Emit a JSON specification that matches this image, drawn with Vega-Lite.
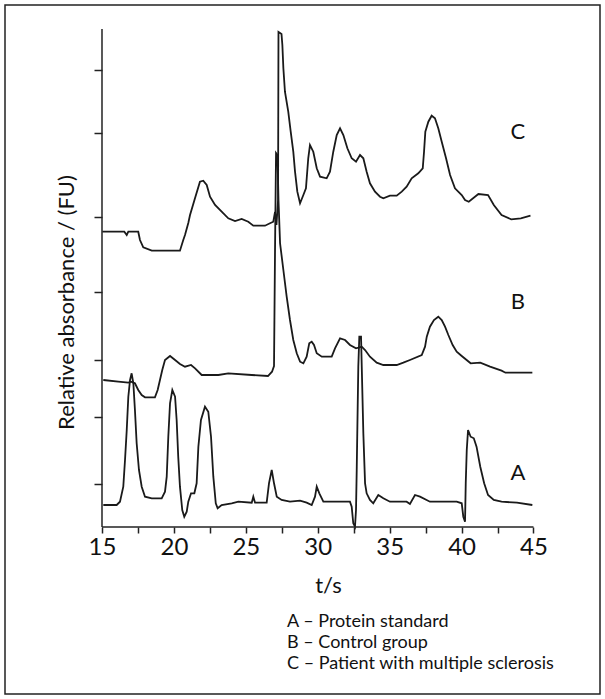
{
  "$schema": "https://vega.github.io/schema/vega-lite/v6.json",
  "width": 595,
  "height": 689,
  "padding": 5,
  "background": "white",
  "config": {
    "view": {"stroke": "#222", "strokeWidth": 1.5, "fill": "white"},
    "font": "Lato"
  },
  "datasets": {
    "labels": [
      {"series": "A – Protein standard", "letter": "A", "t": 43.92, "y": 53.7},
      {"series": "B – Control group", "letter": "B", "t": 43.92, "y": 225.3},
      {"series": "C – Patient with multiple sclerosis", "letter": "C", "t": 43.92, "y": 395.3}
    ],
    "axisline": [{"t": 15, "t2": 45, "y": 0, "y2": 498}]
  },
  "data": {"values": [
    {"series":"C – Patient with multiple sclerosis","t":15.02,"y":295.3},
    {"series":"C – Patient with multiple sclerosis","t":16.55,"y":295.3},
    {"series":"C – Patient with multiple sclerosis","t":16.72,"y":292},
    {"series":"C – Patient with multiple sclerosis","t":16.83,"y":295.3},
    {"series":"C – Patient with multiple sclerosis","t":17.52,"y":295.3},
    {"series":"C – Patient with multiple sclerosis","t":17.64,"y":287},
    {"series":"C – Patient with multiple sclerosis","t":17.87,"y":279.7},
    {"series":"C – Patient with multiple sclerosis","t":18.46,"y":276.3},
    {"series":"C – Patient with multiple sclerosis","t":20.42,"y":276.3},
    {"series":"C – Patient with multiple sclerosis","t":20.65,"y":287},
    {"series":"C – Patient with multiple sclerosis","t":20.77,"y":292},
    {"series":"C – Patient with multiple sclerosis","t":21.0,"y":304},
    {"series":"C – Patient with multiple sclerosis","t":21.12,"y":312},
    {"series":"C – Patient with multiple sclerosis","t":21.47,"y":329},
    {"series":"C – Patient with multiple sclerosis","t":21.81,"y":345.3},
    {"series":"C – Patient with multiple sclerosis","t":22.04,"y":346.3},
    {"series":"C – Patient with multiple sclerosis","t":22.28,"y":342},
    {"series":"C – Patient with multiple sclerosis","t":22.51,"y":330.3},
    {"series":"C – Patient with multiple sclerosis","t":22.86,"y":322},
    {"series":"C – Patient with multiple sclerosis","t":23.32,"y":315.3},
    {"series":"C – Patient with multiple sclerosis","t":23.78,"y":308.7},
    {"series":"C – Patient with multiple sclerosis","t":24.25,"y":306},
    {"series":"C – Patient with multiple sclerosis","t":24.71,"y":308},
    {"series":"C – Patient with multiple sclerosis","t":25.17,"y":305.3},
    {"series":"C – Patient with multiple sclerosis","t":25.52,"y":301.3},
    {"series":"C – Patient with multiple sclerosis","t":26.33,"y":301.3},
    {"series":"C – Patient with multiple sclerosis","t":26.68,"y":303.7},
    {"series":"C – Patient with multiple sclerosis","t":26.91,"y":305.3},
    {"series":"C – Patient with multiple sclerosis","t":27.03,"y":315},
    {"series":"C – Patient with multiple sclerosis","t":27.13,"y":302},
    {"series":"C – Patient with multiple sclerosis","t":27.24,"y":327},
    {"series":"C – Patient with multiple sclerosis","t":27.27,"y":495},
    {"series":"C – Patient with multiple sclerosis","t":27.48,"y":493},
    {"series":"C – Patient with multiple sclerosis","t":27.54,"y":482},
    {"series":"C – Patient with multiple sclerosis","t":27.61,"y":458.7},
    {"series":"C – Patient with multiple sclerosis","t":27.72,"y":435.3},
    {"series":"C – Patient with multiple sclerosis","t":27.95,"y":415.3},
    {"series":"C – Patient with multiple sclerosis","t":28.12,"y":395.3},
    {"series":"C – Patient with multiple sclerosis","t":28.3,"y":375.3},
    {"series":"C – Patient with multiple sclerosis","t":28.42,"y":355.3},
    {"series":"C – Patient with multiple sclerosis","t":28.58,"y":335.3},
    {"series":"C – Patient with multiple sclerosis","t":28.77,"y":323.7},
    {"series":"C – Patient with multiple sclerosis","t":29.0,"y":332},
    {"series":"C – Patient with multiple sclerosis","t":29.18,"y":338.7},
    {"series":"C – Patient with multiple sclerosis","t":29.34,"y":368.7},
    {"series":"C – Patient with multiple sclerosis","t":29.46,"y":382},
    {"series":"C – Patient with multiple sclerosis","t":29.69,"y":375.3},
    {"series":"C – Patient with multiple sclerosis","t":29.93,"y":358.7},
    {"series":"C – Patient with multiple sclerosis","t":30.16,"y":350.3},
    {"series":"C – Patient with multiple sclerosis","t":30.62,"y":348.7},
    {"series":"C – Patient with multiple sclerosis","t":30.85,"y":355.3},
    {"series":"C – Patient with multiple sclerosis","t":31.08,"y":375.3},
    {"series":"C – Patient with multiple sclerosis","t":31.32,"y":392},
    {"series":"C – Patient with multiple sclerosis","t":31.55,"y":398.7},
    {"series":"C – Patient with multiple sclerosis","t":31.78,"y":392},
    {"series":"C – Patient with multiple sclerosis","t":32.06,"y":378.7},
    {"series":"C – Patient with multiple sclerosis","t":32.36,"y":368.7},
    {"series":"C – Patient with multiple sclerosis","t":32.66,"y":365.3},
    {"series":"C – Patient with multiple sclerosis","t":32.94,"y":372},
    {"series":"C – Patient with multiple sclerosis","t":33.17,"y":368.7},
    {"series":"C – Patient with multiple sclerosis","t":33.4,"y":355.3},
    {"series":"C – Patient with multiple sclerosis","t":33.63,"y":343.7},
    {"series":"C – Patient with multiple sclerosis","t":33.98,"y":335.3},
    {"series":"C – Patient with multiple sclerosis","t":34.33,"y":330.3},
    {"series":"C – Patient with multiple sclerosis","t":34.56,"y":328.7},
    {"series":"C – Patient with multiple sclerosis","t":35.02,"y":331.3},
    {"series":"C – Patient with multiple sclerosis","t":35.49,"y":331.3},
    {"series":"C – Patient with multiple sclerosis","t":35.84,"y":335.3},
    {"series":"C – Patient with multiple sclerosis","t":36.18,"y":340.3},
    {"series":"C – Patient with multiple sclerosis","t":36.53,"y":348.7},
    {"series":"C – Patient with multiple sclerosis","t":36.99,"y":353.7},
    {"series":"C – Patient with multiple sclerosis","t":37.3,"y":358.7},
    {"series":"C – Patient with multiple sclerosis","t":37.39,"y":375.3},
    {"series":"C – Patient with multiple sclerosis","t":37.48,"y":395.3},
    {"series":"C – Patient with multiple sclerosis","t":37.69,"y":405.3},
    {"series":"C – Patient with multiple sclerosis","t":37.92,"y":411.3},
    {"series":"C – Patient with multiple sclerosis","t":38.15,"y":408.7},
    {"series":"C – Patient with multiple sclerosis","t":38.38,"y":398.7},
    {"series":"C – Patient with multiple sclerosis","t":38.62,"y":385.3},
    {"series":"C – Patient with multiple sclerosis","t":38.92,"y":368.7},
    {"series":"C – Patient with multiple sclerosis","t":39.2,"y":352},
    {"series":"C – Patient with multiple sclerosis","t":39.54,"y":338.7},
    {"series":"C – Patient with multiple sclerosis","t":40.01,"y":332},
    {"series":"C – Patient with multiple sclerosis","t":40.24,"y":327},
    {"series":"C – Patient with multiple sclerosis","t":40.5,"y":325.3},
    {"series":"C – Patient with multiple sclerosis","t":41.17,"y":333},
    {"series":"C – Patient with multiple sclerosis","t":41.84,"y":332},
    {"series":"C – Patient with multiple sclerosis","t":42.24,"y":322},
    {"series":"C – Patient with multiple sclerosis","t":42.78,"y":312},
    {"series":"C – Patient with multiple sclerosis","t":43.45,"y":307.7},
    {"series":"C – Patient with multiple sclerosis","t":44.12,"y":308.7},
    {"series":"C – Patient with multiple sclerosis","t":44.79,"y":311.3},

    {"series":"B – Control group","t":15.09,"y":147},
    {"series":"B – Control group","t":16.13,"y":145.3},
    {"series":"B – Control group","t":16.83,"y":144.3},
    {"series":"B – Control group","t":17.02,"y":145.3},
    {"series":"B – Control group","t":17.29,"y":143.7},
    {"series":"B – Control group","t":17.52,"y":137},
    {"series":"B – Control group","t":17.76,"y":132},
    {"series":"B – Control group","t":17.99,"y":129.7},
    {"series":"B – Control group","t":18.68,"y":129.7},
    {"series":"B – Control group","t":18.87,"y":137},
    {"series":"B – Control group","t":19.03,"y":147},
    {"series":"B – Control group","t":19.19,"y":157},
    {"series":"B – Control group","t":19.38,"y":167},
    {"series":"B – Control group","t":19.73,"y":171},
    {"series":"B – Control group","t":20.08,"y":167},
    {"series":"B – Control group","t":20.42,"y":163},
    {"series":"B – Control group","t":20.77,"y":160.3},
    {"series":"B – Control group","t":21.19,"y":162},
    {"series":"B – Control group","t":21.47,"y":158.7},
    {"series":"B – Control group","t":21.93,"y":152},
    {"series":"B – Control group","t":23.09,"y":152},
    {"series":"B – Control group","t":23.78,"y":153.7},
    {"series":"B – Control group","t":25.41,"y":152},
    {"series":"B – Control group","t":26.54,"y":151},
    {"series":"B – Control group","t":26.82,"y":155.3},
    {"series":"B – Control group","t":26.96,"y":161},
    {"series":"B – Control group","t":27.03,"y":277},
    {"series":"B – Control group","t":27.1,"y":374},
    {"series":"B – Control group","t":27.2,"y":372},
    {"series":"B – Control group","t":27.27,"y":327},
    {"series":"B – Control group","t":27.38,"y":283.7},
    {"series":"B – Control group","t":27.61,"y":257},
    {"series":"B – Control group","t":27.84,"y":230.3},
    {"series":"B – Control group","t":28.07,"y":207},
    {"series":"B – Control group","t":28.3,"y":187},
    {"series":"B – Control group","t":28.54,"y":173.7},
    {"series":"B – Control group","t":28.77,"y":165.3},
    {"series":"B – Control group","t":29.0,"y":163.7},
    {"series":"B – Control group","t":29.23,"y":170.3},
    {"series":"B – Control group","t":29.41,"y":183.7},
    {"series":"B – Control group","t":29.58,"y":185.3},
    {"series":"B – Control group","t":29.74,"y":182},
    {"series":"B – Control group","t":29.93,"y":173.7},
    {"series":"B – Control group","t":30.28,"y":170.3},
    {"series":"B – Control group","t":30.97,"y":170.3},
    {"series":"B – Control group","t":31.2,"y":178.7},
    {"series":"B – Control group","t":31.55,"y":188.7},
    {"series":"B – Control group","t":31.9,"y":187},
    {"series":"B – Control group","t":32.24,"y":182},
    {"series":"B – Control group","t":32.66,"y":178.7},
    {"series":"B – Control group","t":33.06,"y":180.3},
    {"series":"B – Control group","t":33.29,"y":177},
    {"series":"B – Control group","t":33.63,"y":170.3},
    {"series":"B – Control group","t":34.1,"y":164.3},
    {"series":"B – Control group","t":34.56,"y":162},
    {"series":"B – Control group","t":35.49,"y":162},
    {"series":"B – Control group","t":35.95,"y":164.3},
    {"series":"B – Control group","t":36.41,"y":167},
    {"series":"B – Control group","t":37.23,"y":172},
    {"series":"B – Control group","t":37.46,"y":180.3},
    {"series":"B – Control group","t":37.58,"y":190.3},
    {"series":"B – Control group","t":37.8,"y":200.3},
    {"series":"B – Control group","t":38.08,"y":207},
    {"series":"B – Control group","t":38.38,"y":210.3},
    {"series":"B – Control group","t":38.62,"y":207},
    {"series":"B – Control group","t":38.85,"y":200.3},
    {"series":"B – Control group","t":39.08,"y":192},
    {"series":"B – Control group","t":39.38,"y":182},
    {"series":"B – Control group","t":39.66,"y":175.3},
    {"series":"B – Control group","t":40.01,"y":171},
    {"series":"B – Control group","t":40.63,"y":163.7},
    {"series":"B – Control group","t":41.3,"y":164.3},
    {"series":"B – Control group","t":41.98,"y":160.3},
    {"series":"B – Control group","t":42.78,"y":156.3},
    {"series":"B – Control group","t":43.05,"y":154.3},
    {"series":"B – Control group","t":44.92,"y":154.3},

    {"series":"A – Protein standard","t":15.09,"y":22},
    {"series":"A – Protein standard","t":16.02,"y":22},
    {"series":"A – Protein standard","t":16.25,"y":25.3},
    {"series":"A – Protein standard","t":16.48,"y":40.3},
    {"series":"A – Protein standard","t":16.6,"y":67},
    {"series":"A – Protein standard","t":16.72,"y":97},
    {"series":"A – Protein standard","t":16.83,"y":130.3},
    {"series":"A – Protein standard","t":16.95,"y":147},
    {"series":"A – Protein standard","t":17.06,"y":153.7},
    {"series":"A – Protein standard","t":17.18,"y":143.7},
    {"series":"A – Protein standard","t":17.29,"y":117},
    {"series":"A – Protein standard","t":17.41,"y":83.7},
    {"series":"A – Protein standard","t":17.57,"y":57},
    {"series":"A – Protein standard","t":17.76,"y":40.3},
    {"series":"A – Protein standard","t":17.99,"y":30.3},
    {"series":"A – Protein standard","t":18.46,"y":28.7},
    {"series":"A – Protein standard","t":19.15,"y":28.7},
    {"series":"A – Protein standard","t":19.38,"y":35.3},
    {"series":"A – Protein standard","t":19.5,"y":50.3},
    {"series":"A – Protein standard","t":19.61,"y":90.3},
    {"series":"A – Protein standard","t":19.73,"y":123.7},
    {"series":"A – Protein standard","t":19.89,"y":137},
    {"series":"A – Protein standard","t":20.08,"y":130.3},
    {"series":"A – Protein standard","t":20.19,"y":107},
    {"series":"A – Protein standard","t":20.3,"y":70.3},
    {"series":"A – Protein standard","t":20.42,"y":40.3},
    {"series":"A – Protein standard","t":20.58,"y":17},
    {"series":"A – Protein standard","t":20.72,"y":10.3},
    {"series":"A – Protein standard","t":20.89,"y":15.3},
    {"series":"A – Protein standard","t":21.0,"y":25.3},
    {"series":"A – Protein standard","t":21.19,"y":33.7},
    {"series":"A – Protein standard","t":21.42,"y":33.7},
    {"series":"A – Protein standard","t":21.58,"y":43.7},
    {"series":"A – Protein standard","t":21.7,"y":80.3},
    {"series":"A – Protein standard","t":21.88,"y":107},
    {"series":"A – Protein standard","t":22.16,"y":120.3},
    {"series":"A – Protein standard","t":22.39,"y":115.3},
    {"series":"A – Protein standard","t":22.58,"y":90.3},
    {"series":"A – Protein standard","t":22.74,"y":50.3},
    {"series":"A – Protein standard","t":22.91,"y":23.7},
    {"series":"A – Protein standard","t":23.04,"y":18.7},
    {"series":"A – Protein standard","t":23.32,"y":22},
    {"series":"A – Protein standard","t":24.02,"y":23.7},
    {"series":"A – Protein standard","t":24.48,"y":25.3},
    {"series":"A – Protein standard","t":25.41,"y":24.3},
    {"series":"A – Protein standard","t":25.52,"y":30.3},
    {"series":"A – Protein standard","t":25.64,"y":24.3},
    {"series":"A – Protein standard","t":26.45,"y":24.3},
    {"series":"A – Protein standard","t":26.61,"y":43.7},
    {"series":"A – Protein standard","t":26.8,"y":57},
    {"series":"A – Protein standard","t":26.96,"y":43.7},
    {"series":"A – Protein standard","t":27.15,"y":30.3},
    {"series":"A – Protein standard","t":27.49,"y":27},
    {"series":"A – Protein standard","t":28.07,"y":25.3},
    {"series":"A – Protein standard","t":28.77,"y":26.3},
    {"series":"A – Protein standard","t":29.23,"y":24.3},
    {"series":"A – Protein standard","t":29.58,"y":22},
    {"series":"A – Protein standard","t":29.81,"y":30.3},
    {"series":"A – Protein standard","t":29.93,"y":40.3},
    {"series":"A – Protein standard","t":30.11,"y":33.7},
    {"series":"A – Protein standard","t":30.39,"y":25.3},
    {"series":"A – Protein standard","t":32.24,"y":25.3},
    {"series":"A – Protein standard","t":32.36,"y":20.3},
    {"series":"A – Protein standard","t":32.47,"y":3.7},
    {"series":"A – Protein standard","t":32.59,"y":0.3},
    {"series":"A – Protein standard","t":32.66,"y":17},
    {"series":"A – Protein standard","t":32.71,"y":57},
    {"series":"A – Protein standard","t":32.82,"y":160.3},
    {"series":"A – Protein standard","t":32.89,"y":190.3},
    {"series":"A – Protein standard","t":33.01,"y":190.3},
    {"series":"A – Protein standard","t":33.06,"y":160.3},
    {"series":"A – Protein standard","t":33.17,"y":93.7},
    {"series":"A – Protein standard","t":33.29,"y":43.7},
    {"series":"A – Protein standard","t":33.4,"y":33.7},
    {"series":"A – Protein standard","t":33.63,"y":27},
    {"series":"A – Protein standard","t":33.86,"y":23.7},
    {"series":"A – Protein standard","t":34.21,"y":32},
    {"series":"A – Protein standard","t":34.56,"y":28.7},
    {"series":"A – Protein standard","t":35.02,"y":25.3},
    {"series":"A – Protein standard","t":36.18,"y":25.3},
    {"series":"A – Protein standard","t":36.41,"y":23},
    {"series":"A – Protein standard","t":36.76,"y":32},
    {"series":"A – Protein standard","t":37.11,"y":30.3},
    {"series":"A – Protein standard","t":37.8,"y":25.3},
    {"series":"A – Protein standard","t":38.73,"y":25.3},
    {"series":"A – Protein standard","t":39.66,"y":25.3},
    {"series":"A – Protein standard","t":40.01,"y":23.7},
    {"series":"A – Protein standard","t":40.12,"y":10.3},
    {"series":"A – Protein standard","t":40.24,"y":5.3},
    {"series":"A – Protein standard","t":40.29,"y":44},
    {"series":"A – Protein standard","t":40.36,"y":77},
    {"series":"A – Protein standard","t":40.45,"y":97},
    {"series":"A – Protein standard","t":40.63,"y":90.3},
    {"series":"A – Protein standard","t":40.85,"y":88.7},
    {"series":"A – Protein standard","t":41.04,"y":80.3},
    {"series":"A – Protein standard","t":41.3,"y":60.3},
    {"series":"A – Protein standard","t":41.57,"y":43.7},
    {"series":"A – Protein standard","t":41.84,"y":32},
    {"series":"A – Protein standard","t":42.24,"y":27},
    {"series":"A – Protein standard","t":42.78,"y":25.3},
    {"series":"A – Protein standard","t":43.85,"y":24.3},
    {"series":"A – Protein standard","t":44.92,"y":22}
  ]},
  "layer": [
    {
      "mark": {"type": "line", "strokeWidth": 1.8, "interpolate": "linear"},
      "encoding": {
        "x": {
          "field": "t", "type": "quantitative",
          "scale": {"domain": [8.256, 49.624], "nice": false, "zero": false},
          "axis": {
            "orient": "bottom", "offset": -167, "domain": false, "grid": false,
            "values": [15, 17.5, 20, 22.5, 25, 27.5, 30, 32.5, 35, 37.5, 40, 42.5, 45],
            "labelExpr": "datum.value % 5 == 0 ? datum.label : ''",
            "tickSize": 6, "tickWidth": 1.5, "tickColor": "#222",
            "labelFont": "Lato", "labelFontSize": 24, "labelColor": "#111", "labelPadding": 2,
            "title": "t/s", "titleFont": "Lato", "titleFontSize": 22, "titleFontWeight": "normal",
            "titleColor": "#111", "titleX": 323, "titleY": 58, "titleAlign": "center", "titleBaseline": "middle"
          }
        },
        "y": {
          "field": "y", "type": "quantitative",
          "scale": {"domain": [-167, 522], "nice": false, "zero": false},
          "axis": {
            "orient": "left", "offset": -97, "domain": false, "grid": false,
            "values": [43, 110, 167, 235, 310, 394, 457],
            "labels": false, "tickSize": 8, "tickWidth": 1.5, "tickColor": "#222",
            "title": "Relative absorbance / (FU)", "titleFont": "Lato", "titleFontSize": 22,
            "titleFontWeight": "normal", "titleColor": "#111", "titleAngle": -90,
            "titleX": -36, "titleY": 297, "titleAlign": "center", "titleBaseline": "middle"
          }
        },
        "color": {
          "field": "series", "type": "nominal",
          "scale": {"range": ["#1a1a1a", "#1a1a1a", "#1a1a1a"]},
          "legend": {
            "orient": "none", "legendX": 264, "legendY": 608, "title": null,
            "symbolSize": 0, "symbolOpacity": 0, "symbolStrokeWidth": 0, "labelOffset": 0,
            "labelFont": "Lato", "labelFontSize": 18, "labelColor": "#111", "rowPadding": 3, "padding": 0,
            "labelLimit": 400
          }
        }
      }
    },
    {
      "data": {"name": "axisline"},
      "mark": {"type": "rule", "color": "#222", "strokeWidth": 1.5},
      "encoding": {"x": {"field": "t", "type": "quantitative"}, "y": {"field": "y", "type": "quantitative"}, "y2": {"field": "y2"}}
    },
    {
      "data": {"name": "axisline"},
      "mark": {"type": "rule", "color": "#222", "strokeWidth": 1.5},
      "encoding": {"x": {"field": "t", "type": "quantitative"}, "x2": {"field": "t2"}, "y": {"datum": 0, "type": "quantitative"}}
    },
    {
      "data": {"name": "labels"},
      "mark": {"type": "text", "font": "Lato", "fontSize": 22, "color": "#111", "align": "center", "baseline": "middle"},
      "encoding": {
        "x": {"field": "t", "type": "quantitative"},
        "y": {"field": "y", "type": "quantitative"},
        "text": {"field": "letter"}
      }
    }
  ]
}
